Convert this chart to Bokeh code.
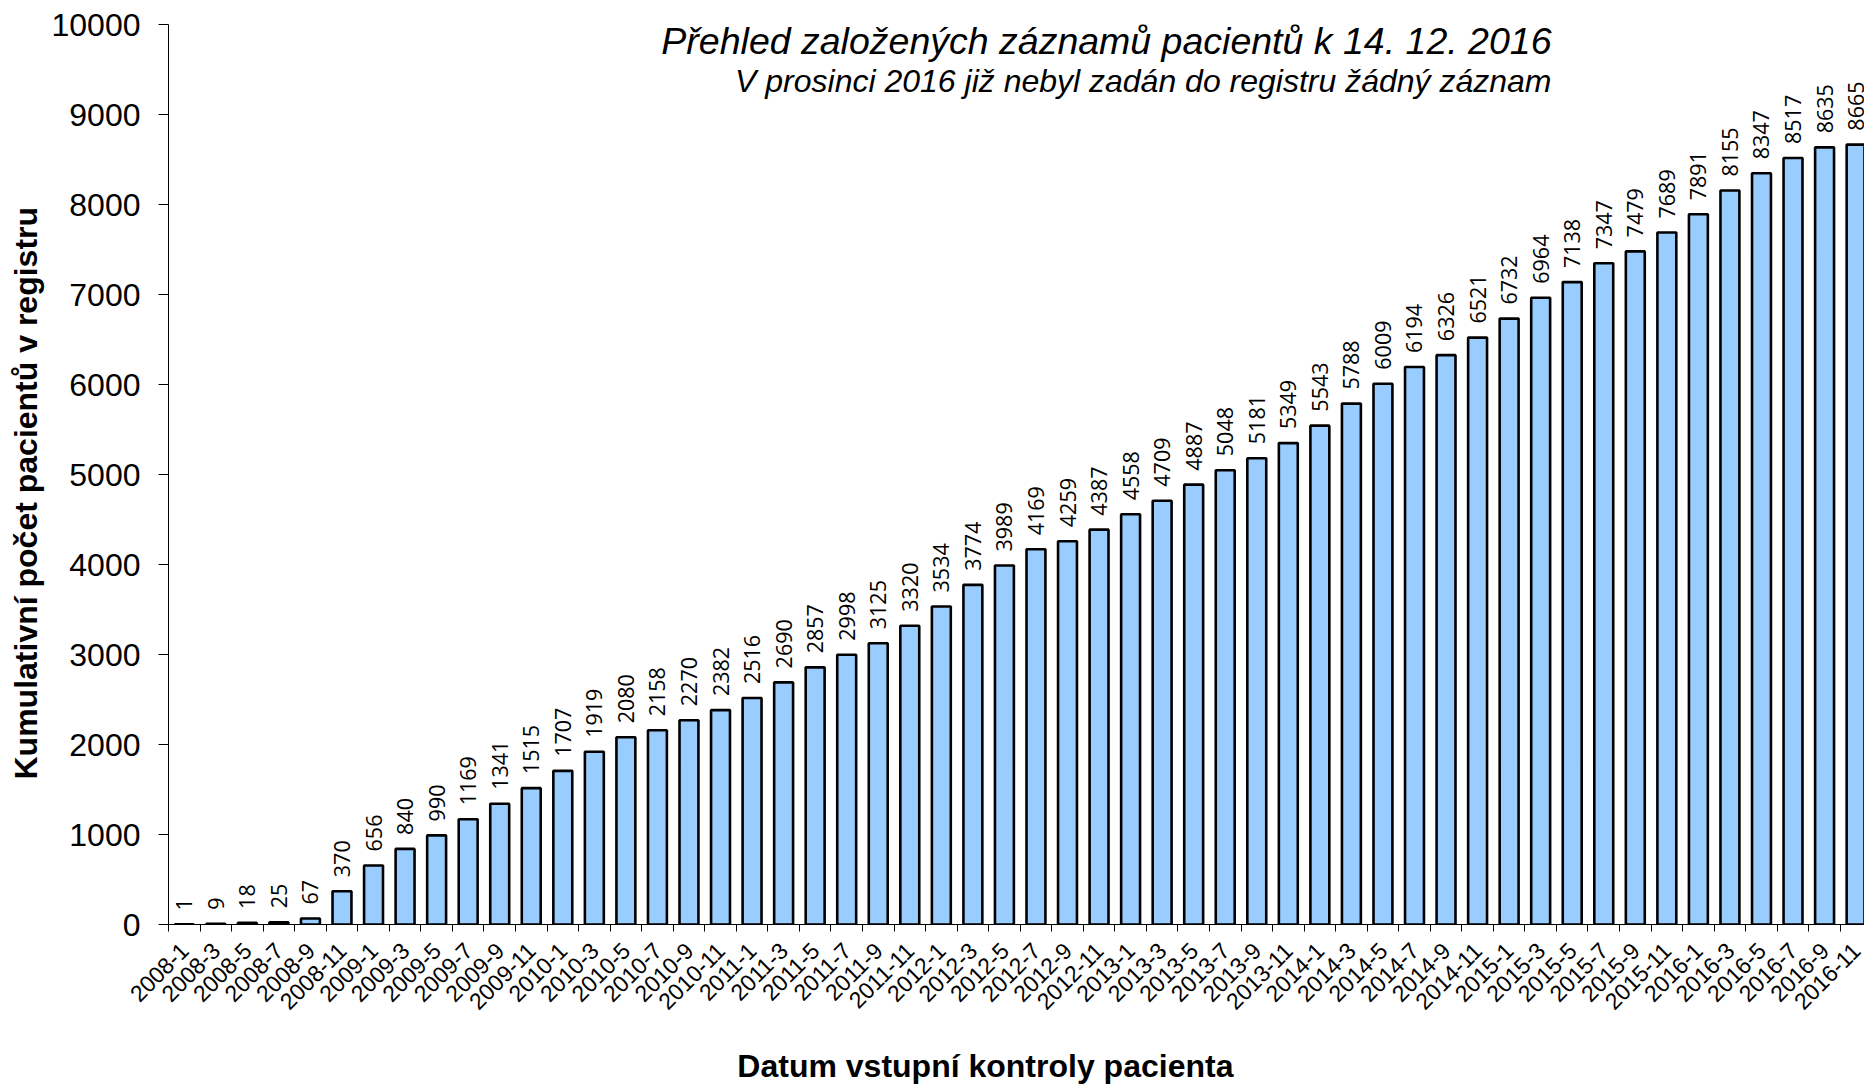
import math
from bokeh.plotting import figure
from bokeh.models import Range1d, FixedTicker, Label, ColumnDataSource, Title
from bokeh.core.properties import value
from bokeh.embed import file_html
from bokeh.resources import INLINE

# ---- data ----
years = [2008, 2009, 2010, 2011, 2012, 2013, 2014, 2015, 2016]
months = [1, 3, 5, 7, 9, 11]
categories = [f"{y}-{m}" for y in years for m in months]
cumulative = [1, 9, 18, 25, 67, 370,
              656, 840, 990, 1169, 1341, 1515,
              1707, 1919, 2080, 2158, 2270, 2382,
              2516, 2690, 2857, 2998, 3125, 3320,
              3534, 3774, 3989, 4169, 4259, 4387,
              4558, 4709, 4887, 5048, 5181, 5349,
              5543, 5788, 6009, 6194, 6326, 6521,
              6732, 6964, 7138, 7347, 7479, 7689,
              7891, 8155, 8347, 8517, 8635, 8665]
y_ticks = list(range(0, 10001, 1000))
title_text = "Přehled založených záznamů pacientů k 14. 12. 2016"
subtitle_text = "V prosinci 2016 již nebyl zadán do registru žádný záznam"
x_title = "Datum vstupní kontroly pacienta"
y_title = "Kumulativní počet pacientů v registru"

# ---- layout ----
W, H = 1864, 1086
left, top = 165, 24
frame_h = 900
frame_w = W - left
cat_px = 31.6

idx = list(range(len(categories)))
src = ColumnDataSource(dict(x=idx, top=cumulative, lab=[str(v) for v in cumulative]))

p = figure(width=W, height=H, output_backend="svg", toolbar_location=None,
           x_range=Range1d(-0.5, -0.5 + frame_w / cat_px), y_range=Range1d(0, 10000),
           min_border_left=left, min_border_top=top,
           min_border_bottom=H - top - frame_h, min_border_right=0)
p.outline_line_color = None
p.xgrid.visible = False
p.ygrid.visible = False
p.background_fill_color = "white"
p.border_fill_color = "white"

p.vbar(x="x", top="top", width=0.6, source=src, fill_color="#99CCFF",
       line_color="black", line_width=2.6)

p.text(x="x", y="top", text="lab", source=src, angle=math.pi / 2,
       text_align="left", text_baseline="middle", y_offset=-14,
       text_font=value("Open Sans"), text_font_size="21.5px", text_color="black")

# x axis
xa = p.xaxis[0]
xa.ticker = FixedTicker(ticks=idx, minor_ticks=[i - 0.5 for i in range(len(categories) + 1)])
xa.major_label_overrides = {i: c for i, c in zip(idx, categories)}
xa.major_label_orientation = math.pi / 4
xa.major_tick_out = 0
xa.major_tick_in = 0
xa.minor_tick_out = 7
xa.minor_tick_in = 0
xa.minor_tick_line_color = "black"
xa.axis_line_color = "black"
xa.major_label_text_font = "Liberation Sans"
xa.major_label_text_font_size = "23px"
xa.major_label_text_color = "black"
xa.major_label_standoff = 15
# title text padded on the right so that it sits left of the frame centre, as in the original
xa.axis_label = x_title + "\u00a0" * 7
xa.axis_label_standoff = 28
xa.axis_label_text_font = "Liberation Sans"
xa.axis_label_text_font_style = "bold"
xa.axis_label_text_font_size = "32px"
xa.axis_label_text_color = "black"

# y axis
ya = p.yaxis[0]
ya.ticker = FixedTicker(ticks=y_ticks)
ya.major_tick_out = 10
ya.major_tick_in = 0
ya.minor_tick_out = 0
ya.minor_tick_in = 0
ya.axis_line_color = "black"
ya.major_tick_line_color = "black"
ya.major_label_text_font = "Liberation Sans"
ya.major_label_text_font_size = "32px"
ya.major_label_text_color = "black"
ya.major_label_standoff = 18

# titles inside the plot area
p.add_layout(Label(x=1383, y=884, x_units="screen", y_units="screen", text=title_text,
                   text_align="right", text_baseline="alphabetic",
                   text_font="Liberation Sans", text_font_style="italic",
                   text_font_size="37.5px", text_color="black"))
p.add_layout(Label(x=1383, y=844, x_units="screen", y_units="screen", text=subtitle_text,
                   text_align="right", text_baseline="alphabetic",
                   text_font="Liberation Sans", text_font_style="italic",
                   text_font_size="32px", text_color="black"))

# y axis title
p.add_layout(Title(text=y_title, align="left", offset=145, standoff=10,
                   text_font="Liberation Sans", text_font_style="bold",
                   text_font_size="32px", text_color="black"), "left")

open("out.html", "w").write(file_html(p, INLINE))
